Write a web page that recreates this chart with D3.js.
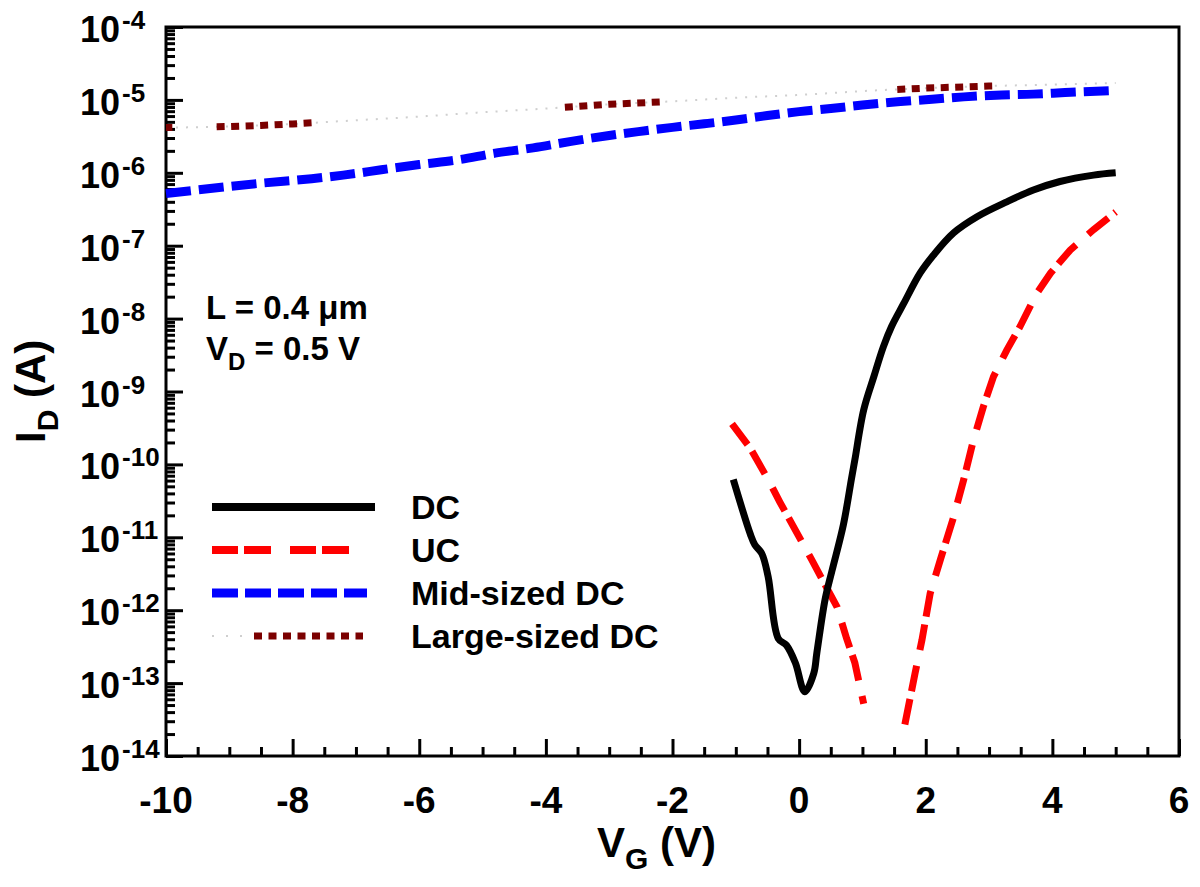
<!DOCTYPE html>
<html>
<head>
<meta charset="utf-8">
<script src="https://cdn.jsdelivr.net/npm/d3@7"></script>
<style>
  html, body { margin: 0; padding: 0; background: #fff; }
  svg { display: block; }
  text { font-family: "Liberation Sans", Arial, sans-serif; font-weight: bold; fill: #000; }
</style>
</head>
<body>
<svg id="chart" width="1200" height="887"></svg>
<script>
// ---------------- DATA ----------------
const xTickValues = [-10, -8, -6, -4, -2, 0, 2, 4, 6];
const yTickExponents = [-14, -13, -12, -11, -10, -9, -8, -7, -6, -5, -4];

// DC (black solid)
const dcV = [-1.04, -0.77, -0.70, -0.59, -0.49, -0.33, -0.20, -0.06, 0.09, 0.23, 0.28, 0.41, 0.52, 0.70, 0.83, 0.88, 1.02, 1.18, 1.33, 1.46, 1.65, 1.91, 2.12, 2.44, 2.81, 3.28, 3.70, 4.12, 4.65, 5.00];
const dcI = [6.2e-11, 1.1e-11, 7.9e-12, 6.0e-12, 2.9e-12, 4.1e-13, 3.3e-13, 1.9e-13, 7.6e-14, 1.35e-13, 2.6e-13, 1.4e-12, 3.5e-12, 1.5e-11, 6.6e-11, 1.15e-10, 5.6e-10, 1.6e-9, 4.1e-9, 7.8e-9, 1.6e-8, 4.2e-8, 7.4e-8, 1.5e-7, 2.5e-7, 4.0e-7, 5.8e-7, 7.6e-7, 9.3e-7, 1.0e-6];

// UC (red dashed), two branches
const ucV1 = [-1.06, -0.77, -0.49, -0.30, 0.20, 0.38, 0.60, 0.75, 0.88, 1.02];
const ucI1 = [3.6e-10, 1.66e-10, 6.2e-11, 3.0e-11, 4.9e-12, 2.5e-12, 1.1e-12, 4.1e-13, 1.9e-13, 5.2e-14];
const ucV2 = [1.67, 1.83, 1.94, 2.07, 2.23, 2.44, 2.60, 2.75, 2.91, 3.07, 3.28, 3.49, 3.75, 3.97, 4.28, 4.65, 5.00];
const ucI2 = [2.7e-14, 1.35e-13, 3.9e-13, 1.7e-12, 4.9e-12, 1.9e-11, 6.2e-11, 2.1e-10, 6.2e-10, 1.6e-9, 3.7e-9, 7.8e-9, 2.2e-8, 4.2e-8, 8.7e-8, 1.66e-7, 2.9e-7];

// Mid-sized DC (blue dashed)
const midV = [-10, -9, -8.5, -7.7, -7.2, -6.6, -6.0, -5.4, -4.8, -4.2, -3.6, -3.0, -2.4, -2.0, -1.5, -1.0, -0.5, 0, 0.5, 1.0, 1.6, 2.1, 2.6, 3.2, 3.7, 4.2, 5.0];
const midI = [5.2e-7, 6.5e-7, 7.2e-7, 8.3e-7, 9.3e-7, 1.1e-6, 1.3e-6, 1.5e-6, 1.86e-6, 2.2e-6, 2.7e-6, 3.25e-6, 3.8e-6, 4.2e-6, 4.7e-6, 5.3e-6, 6.1e-6, 6.9e-6, 7.6e-6, 8.5e-6, 9.5e-6, 1.02e-5, 1.1e-5, 1.17e-5, 1.2e-5, 1.26e-5, 1.35e-5];

// Large-sized DC (dark red dotted; only some stretches rendered visibly)
const largeV = [-10, -9.5, -9, -8.5, -8, -7, -6, -5, -4, -3, -2, -1, 0, 1, 2, 3, 4, 5];
const largeI = [4.17e-6, 4.22e-6, 4.32e-6, 4.47e-6, 4.68e-6, 5.25e-6, 5.9e-6, 6.76e-6, 7.6e-6, 8.7e-6, 9.55e-6, 1.07e-5, 1.17e-5, 1.32e-5, 1.45e-5, 1.55e-5, 1.62e-5, 1.7e-5];
const largeVisibleRanges = [[-10, -9.9], [-9.2, -7.7], [-3.7, -2.2], [1.55, 3.05]];

const legendLabels = ["DC", "UC", "Mid-sized DC", "Large-sized DC"];

// ---------------- LAYOUT ----------------
const svg = d3.select("#chart");
const pL = 166, pR = 1179, pT = 27, pB = 756;
const x = d3.scaleLinear().domain([-10, 6]).range([pL, pR]);
const y = d3.scaleLog().domain([1e-14, 1e-4]).range([pB, pT]);

const zip = (a, b) => a.map((v, i) => [v, b[i]]);
const line = d3.line().x(d => x(d[0])).y(d => y(d[1]));
const smooth = d3.line().x(d => x(d[0])).y(d => y(d[1])).curve(d3.curveMonotoneX);
const catmull = d3.line().x(d => x(d[0])).y(d => y(d[1])).curve(d3.curveCatmullRom.alpha(0.5));

svg.append("defs").append("clipPath").attr("id", "plotclip")
  .append("rect").attr("x", pL - 6).attr("y", pT).attr("width", pR - pL + 6).attr("height", pB - pT);

// ---------------- AXES ----------------
const xMinor = d3.range(-10, 6.001, 0.5).filter(v => Math.abs(v % 2) > 1e-6);
svg.append("g").attr("transform", `translate(0,${pB})`)
  .call(d3.axisBottom(x).tickValues(xMinor).tickSize(-9).tickFormat(""))
  .call(g => g.select(".domain").remove())
  .call(g => g.selectAll("line").attr("stroke-width", 3));
svg.append("g").attr("transform", `translate(0,${pB})`)
  .call(d3.axisBottom(x).tickValues(xTickValues).tickSize(-17).tickFormat(""))
  .call(g => g.select(".domain").remove())
  .call(g => g.selectAll("line").attr("stroke-width", 3));

svg.append("g").selectAll("text").data(xTickValues).join("text")
  .attr("x", d => x(d)).attr("y", 813)
  .attr("text-anchor", "middle").attr("font-size", 37)
  .text(d => d);

const yMinor = [];
yTickExponents.slice(0, -1).forEach(e => { for (let m = 2; m <= 9; m++) yMinor.push(m * Math.pow(10, e)); });
const yMajor = yTickExponents.map(e => Math.pow(10, e));
svg.append("g").attr("transform", `translate(${pL},0)`)
  .call(d3.axisLeft(y).tickValues(yMinor).tickSize(-9).tickFormat(""))
  .call(g => g.select(".domain").remove())
  .call(g => g.selectAll("line").attr("stroke-width", 3));
svg.append("g").attr("transform", `translate(${pL},0)`)
  .call(d3.axisLeft(y).tickValues(yMajor).tickSize(-17).tickFormat(""))
  .call(g => g.select(".domain").remove())
  .call(g => g.selectAll("line").attr("stroke-width", 3));

const yl = svg.append("g").selectAll("text").data(yTickExponents).join("text")
  .attr("x", 80).attr("y", d => y(Math.pow(10, d)) + 15)
  .attr("font-size", 36);
yl.append("tspan").text("10");
yl.append("tspan").attr("font-size", 26).attr("dy", -13).attr("dx", 2).text(d => d);

svg.append("rect").attr("x", pL).attr("y", pT)
  .attr("width", pR - pL).attr("height", pB - pT)
  .attr("fill", "none").attr("stroke", "#000").attr("stroke-width", 3);

const xt = svg.append("text").attr("x", 597).attr("y", 857).attr("font-size", 42);
xt.append("tspan").text("V");
xt.append("tspan").attr("font-size", 30).attr("dy", 12).text("G");
xt.append("tspan").attr("dy", -12).text(" (V)");

const ytl = svg.append("text").attr("transform", "translate(45,443) rotate(-90)").attr("font-size", 42);
ytl.append("tspan").text("I");
ytl.append("tspan").attr("font-size", 30).attr("dy", 13).text("D");
ytl.append("tspan").attr("dy", -13).text(" (A)");

const a1 = svg.append("text").attr("x", 206).attr("y", 319).attr("font-size", 33);
a1.append("tspan").text("L = 0.4 ");
a1.append("tspan").text("μm");
const a2 = svg.append("text").attr("x", 206).attr("y", 360).attr("font-size", 33);
a2.append("tspan").text("V");
a2.append("tspan").attr("font-size", 24).attr("dy", 10).text("D");
a2.append("tspan").attr("dy", -10).text(" = 0.5 V");

// ---------------- SERIES ----------------
const plot = svg.append("g").attr("clip-path", "url(#plotclip)");

const largeData = zip(largeV, largeI);
plot.append("path").attr("d", smooth(largeData))
  .attr("fill", "none").attr("stroke", "#cfcfcf").attr("stroke-width", 2)
  .attr("stroke-dasharray", "2,8");

function interpLog(data, v) {
  for (let i = 0; i < data.length - 1; i++) {
    const [x0, y0] = data[i], [x1, y1] = data[i + 1];
    if (v >= x0 && v <= x1) {
      const t = (v - x0) / (x1 - x0);
      return Math.pow(10, Math.log10(y0) + t * (Math.log10(y1) - Math.log10(y0)));
    }
  }
  return data[data.length - 1][1];
}
largeVisibleRanges.forEach(([a, b]) => {
  const seg = [[a, interpLog(largeData, a)]]
    .concat(largeData.filter(d => d[0] > a && d[0] < b))
    .concat([[b, interpLog(largeData, b)]]);
  svg.append("path").attr("d", line(seg))
    .attr("fill", "none").attr("stroke", "#7b0000").attr("stroke-width", 7)
    .attr("stroke-dasharray", "8,6.5");
});

plot.append("path").attr("d", smooth(zip(midV, midI)))
  .attr("fill", "none").attr("stroke", "#0000ff").attr("stroke-width", 9)
  .attr("stroke-dasharray", "25,8");

plot.append("path").attr("d", line(zip(ucV1, ucI1)))
  .attr("fill", "none").attr("stroke", "#ff0000").attr("stroke-width", 7)
  .attr("stroke-dasharray", "26,8,26,16");
plot.append("path").attr("d", line(zip(ucV2, ucI2)))
  .attr("fill", "none").attr("stroke", "#ff0000").attr("stroke-width", 7)
  .attr("stroke-dasharray", "26,8,26,16");

plot.append("path").attr("d", catmull(zip(dcV, dcI)))
  .attr("fill", "none").attr("stroke", "#000").attr("stroke-width", 7)
  .attr("stroke-linejoin", "round");

// ---------------- LEGEND ----------------
const legY = [507, 550, 593, 636];
const lg = svg.append("g");
lg.append("line").attr("x1", 212).attr("x2", 375).attr("y1", legY[0]).attr("y2", legY[0])
  .attr("stroke", "#000").attr("stroke-width", 8);
lg.append("line").attr("x1", 212).attr("x2", 349).attr("y1", legY[1]).attr("y2", legY[1])
  .attr("stroke", "#ff0000").attr("stroke-width", 8).attr("stroke-dasharray", "26,6,27,19");
lg.append("line").attr("x1", 212).attr("x2", 367).attr("y1", legY[2]).attr("y2", legY[2])
  .attr("stroke", "#0000ff").attr("stroke-width", 9).attr("stroke-dasharray", "26,7");
lg.append("line").attr("x1", 212).attr("x2", 250).attr("y1", legY[3]).attr("y2", legY[3])
  .attr("stroke", "#cfcfcf").attr("stroke-width", 2).attr("stroke-dasharray", "2,12");
lg.append("line").attr("x1", 254).attr("x2", 363).attr("y1", legY[3]).attr("y2", legY[3])
  .attr("stroke", "#7b0000").attr("stroke-width", 7).attr("stroke-dasharray", "8,6.5");
lg.selectAll("text").data(legendLabels).join("text")
  .attr("x", 411).attr("y", (d, i) => legY[i] + 12).attr("font-size", 34)
  .text(d => d);
</script>
</body>
</html>
